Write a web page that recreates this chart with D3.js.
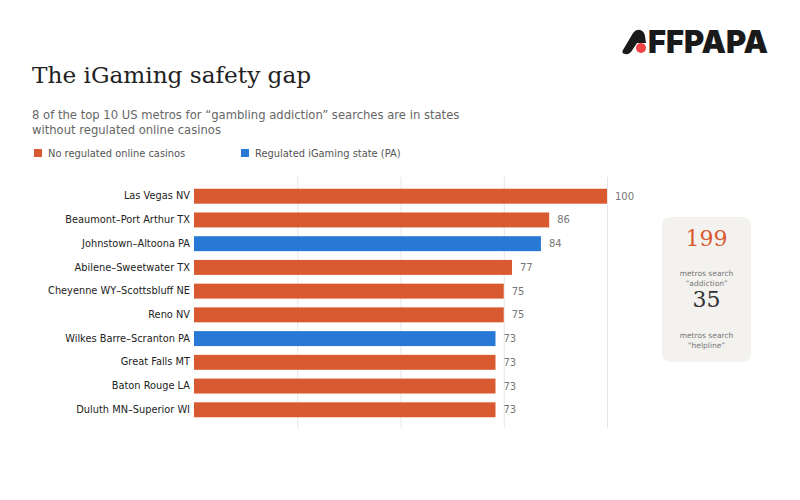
<!DOCTYPE html>
<html><head><meta charset="utf-8">
<script src="https://cdn.jsdelivr.net/npm/d3@7"></script>
<style>body{margin:0;background:#fff}svg{display:block}</style>
</head><body><svg id="c" width="800" height="500"></svg>
<script>
const metros = ["Las Vegas NV","Beaumont–Port Arthur TX","Johnstown–Altoona PA","Abilene–Sweetwater TX","Cheyenne WY–Scottsbluff NE","Reno NV","Wilkes Barre–Scranton PA","Great Falls MT","Baton Rouge LA","Duluth MN–Superior WI"];
const values = [100,86,84,77,75,75,73,73,73,73];
const regulated = [false,false,true,false,false,false,true,false,false,false];
const xTicks = [0,25,50,75,100];
const legendLabels = ["No regulated online casinos","Regulated iGaming state (PA)"];
const statValues = [199,35];
const statLabels = [["metros search","“addiction”"],["metros search","“helpline”"]];

const orange="#d95a30", blue="#2878d6";
const svg=d3.select("#c");
const sans="DejaVu Sans, sans-serif", serif="DejaVu Serif, serif";

// logo
const lg=svg.append("g");
lg.append("path").attr("d","M623,50 L633,33 Q636,29 640,30 Q644,31 645,36 L646,43 L637,43 L631,52 Q628,55 625,54 Q621,53 623,50 Z").attr("fill","#1a1a1a");
lg.append("circle").attr("cx",641).attr("cy",48).attr("r",5).attr("fill","#f04447");
lg.append("text").attr("x",648).attr("y",53).attr("font-family","Inter, sans-serif").attr("font-weight",900).attr("font-size",32).attr("textLength",120).attr("lengthAdjust","spacingAndGlyphs").attr("fill","#1a1a1a").text("FFPAPA");

svg.append("text").attr("x",32).attr("y",83).attr("font-family",serif).attr("font-size",23.2).attr("fill","#222").text("The iGaming safety gap");
svg.append("text").attr("x",32).attr("y",119).attr("font-family",sans).attr("font-size",11.6).attr("fill","#666").text("8 of the top 10 US metros for “gambling addiction” searches are in states");
svg.append("text").attr("x",32).attr("y",134).attr("font-family",sans).attr("font-size",11.6).attr("fill","#666").text("without regulated online casinos");

const legX=[34,241];
legendLabels.forEach((l,i)=>{
  svg.append("rect").attr("x",legX[i]).attr("y",149).attr("width",8).attr("height",8).attr("fill",i?blue:orange);
  svg.append("text").attr("x",legX[i]+14).attr("y",157).attr("font-family",sans).attr("font-size",9.9).attr("fill","#555").text(l);
});

const x=d3.scaleLinear().domain([0,100]).range([194,607]);
const y=d3.scaleBand().domain(metros).range([184,422]).paddingInner(0.37).paddingOuter(0.2);

const grid=svg.append("g").attr("transform","translate(0,177)").call(d3.axisBottom(x).tickValues(xTicks.slice(1)).tickSize(251).tickFormat(""));
grid.select(".domain").remove();
grid.selectAll("line").attr("stroke","#e6e6e6");

svg.append("g").selectAll("rect").data(metros).join("rect")
  .attr("x",x(0)).attr("y",d=>y(d)).attr("width",(d,i)=>x(values[i])-x(0)).attr("height",y.bandwidth())
  .attr("fill",(d,i)=>regulated[i]?blue:orange);

const ya=svg.append("g").attr("transform","translate(194,0)").call(d3.axisLeft(y).tickSize(0).tickPadding(4));
ya.select(".domain").remove();
ya.selectAll("text").attr("font-family",sans).attr("font-size",9.8).attr("fill","#222");

svg.append("g").selectAll("text").data(metros).join("text")
  .attr("x",(d,i)=>x(values[i])+8).attr("y",d=>y(d)+y.bandwidth()/2).attr("dy","0.35em")
  .attr("font-family",sans).attr("font-size",10).attr("fill","#777").text((d,i)=>values[i]);

// stat card
svg.append("rect").attr("x",662).attr("y",217).attr("width",89).attr("height",145).attr("rx",8).attr("fill","#f3f2ef");
const statY=[246,307], labY=[[276,286],[338,348]];
statValues.forEach((v,i)=>{
  svg.append("text").attr("x",706.5).attr("y",statY[i]).attr("text-anchor","middle").attr("font-family",serif).attr("font-size",22).attr("fill",i?"#333":orange).text(v);
  statLabels[i].forEach((t,j)=>svg.append("text").attr("x",706.5).attr("y",labY[i][j]).attr("text-anchor","middle").attr("font-family",sans).attr("font-size",7.5).attr("fill","#777").text(t));
});
</script></body></html>
